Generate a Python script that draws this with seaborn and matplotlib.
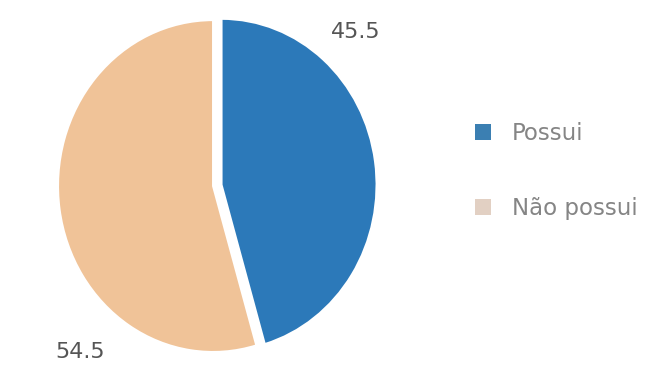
import matplotlib
matplotlib.use("Agg")
import matplotlib.pyplot as plt
import seaborn as sns

# Share of respondents by possession
categories = ["Possui", "Não possui"]
values = [45.5, 54.5]
value_labels = ["45.5", "54.5"]
colors = ["#2c79b9", "#f0c398"]
legend_colors = ["#3b7fb2", "#e2d0c3"]

sns.set_theme(style="white")
plt.rcParams["font.family"] = ["DejaVu Sans"]

fig = plt.figure(figsize=(6.51, 3.76), dpi=100)
ax = fig.add_axes([0.0653, 0.0197, 0.524, 0.971])

wedges, _ = ax.pie(
    values,
    colors=colors,
    startangle=90,
    counterclock=False,
    explode=[0.055, 0.0],
    radius=1.0,
    wedgeprops=dict(edgecolor="white", linewidth=1.5),
)
ax.set_xlim(-1.1, 1.1)
ax.set_ylim(-1.1, 1.1)
ax.set_aspect("auto")
ax.axis("off")

# value labels near the outer rim
label_pos = [(0.92, 0.93), (-0.86, -1.0)]
for (x, y), txt in zip(label_pos, value_labels):
    ax.text(x, y, txt, ha="center", va="center", fontsize=16, color="#555555")

handles = [
    plt.Rectangle((0, 0), 1, 1, facecolor=c, edgecolor="none") for c in legend_colors
]
leg = fig.legend(
    handles,
    categories,
    loc="center left",
    bbox_to_anchor=(475 / 651, 1 - 171 / 376),
    frameon=False,
    fontsize=16.5,
    labelspacing=2.3,
    handlelength=0.7,
    handleheight=0.7,
    handletextpad=0.9,
    borderpad=0,
    borderaxespad=0,
)
for t in leg.get_texts():
    t.set_color("#858585")

fig.savefig("out.png", dpi=100, facecolor="white")
